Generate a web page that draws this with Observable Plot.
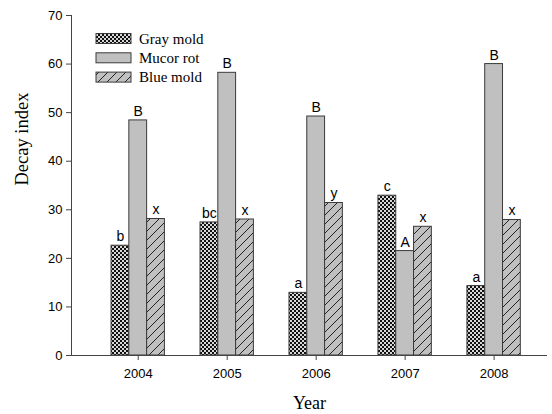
<!DOCTYPE html>
<html><head><meta charset="utf-8">
<script src="https://cdn.jsdelivr.net/npm/d3@7"></script>
<script src="https://cdn.jsdelivr.net/npm/@observablehq/plot@0.6"></script>
<style>body{margin:0;background:#fff}</style>
</head><body><div id="chart"></div>
<script>
const years = [2004, 2005, 2006, 2007, 2008];
const series = ["Gray mold", "Mucor rot", "Blue mold"];
const grayMold = [22.6, 27.4, 12.9, 32.9, 14.3];
const mucorRot = [48.4, 58.2, 49.2, 21.5, 60.0];
const blueMold = [28.1, 28.0, 31.4, 26.5, 27.9];
const grayLetters = ["b", "bc", "a", "c", "a"];
const mucorLetters = ["B", "B", "B", "A", "B"];
const blueLetters = ["x", "x", "y", "x", "x"];
const yTicks = [0, 10, 20, 30, 40, 50, 60, 70];

const values = [grayMold, mucorRot, blueMold];
const letters = [grayLetters, mucorLetters, blueLetters];
const barW = 0.2;
const rows = [];
series.forEach((s, si) => {
  years.forEach((yr, i) => {
    const x1 = yr - 1.5 * barW + si * barW;
    rows.push({year: yr, series: s, si, value: values[si][i], letter: letters[si][i], x1, x2: x1 + barW, xc: x1 + barW / 2});
  });
});

const sans = "'Liberation Sans', Arial, Helvetica, sans-serif";
const serif = "'Liberation Serif', 'Times New Roman', Times, serif";
const fills = ["url(#pGray)", "#c0c0c0", "url(#pBlue)"];

const chart = Plot.plot({
  width: 552,
  height: 414,
  marginLeft: 71,
  marginRight: 5,
  marginTop: 15,
  marginBottom: 59,
  style: {fontFamily: sans, fontSize: "13px", color: "#000", background: "#fff"},
  x: {type: "linear", domain: [2003.25, 2008.6]},
  y: {domain: [0, 70]},
  marks: [
    ...series.map((s, si) => Plot.rectY(rows.filter(d => d.si === si), {
      x1: "x1", x2: "x2", y1: 0, y2: "value",
      fill: fills[si], stroke: "#3a3a3a", strokeWidth: 1
    })),
    Plot.text(rows, {x: "xc", y: "value", text: "letter", dy: -9, fontSize: 14, fontFamily: sans, fill: "#000"}),
    Plot.ruleY([0], {stroke: "#444"}),
    Plot.ruleX([2003.25], {y1: 0, y2: 70, stroke: "#444"}),
    Plot.axisY({ticks: yTicks, tickSize: 5, tickPadding: 4, label: null, stroke: "#444"}),
    Plot.axisX({ticks: years, tickFormat: d => String(d), tickSize: 5, tickPadding: 8, label: null, stroke: "#444"}),
    Plot.text(["Year"], {frameAnchor: "bottom", dy: 53, fontSize: 18, fontFamily: serif, fill: "#000"}),
    Plot.text(["Decay index"], {frameAnchor: "left", dx: -49, rotate: -90, fontSize: 18.5, fontFamily: serif, fill: "#000"})
  ]
});

const svg = d3.select(chart);
const defs = svg.insert("defs", ":first-child");
const pg = defs.append("pattern").attr("id", "pGray").attr("patternUnits", "userSpaceOnUse").attr("width", 4).attr("height", 4);
pg.append("rect").attr("width", 4).attr("height", 4).attr("fill", "#d8d8d8");
pg.append("rect").attr("width", 2).attr("height", 2).attr("fill", "#111");
pg.append("rect").attr("x", 2).attr("y", 2).attr("width", 2).attr("height", 2).attr("fill", "#111");
const pb = defs.append("pattern").attr("id", "pBlue").attr("patternUnits", "userSpaceOnUse").attr("width", 9).attr("height", 9);
pb.append("rect").attr("width", 9).attr("height", 9).attr("fill", "#c0c0c0");
pb.append("path").attr("d", "M-1,10 L10,-1").attr("stroke", "#222").attr("stroke-width", 1);

// legend
const lg = svg.append("g").attr("class", "legend").attr("text-anchor", "start");
series.forEach((s, si) => {
  const cy = 38.5 + si * 19.3;
  lg.append("rect").attr("x", 96).attr("y", cy - 5).attr("width", 35).attr("height", 10)
    .attr("fill", fills[si]).attr("stroke", "#3a3a3a");
  lg.append("text").attr("x", 139).attr("y", cy + 5).text(s)
    .attr("text-anchor", "start")
    .attr("font-family", serif).attr("font-size", 15).attr("fill", "#000");
});

document.getElementById("chart").appendChild(chart);
</script>
</body></html>
